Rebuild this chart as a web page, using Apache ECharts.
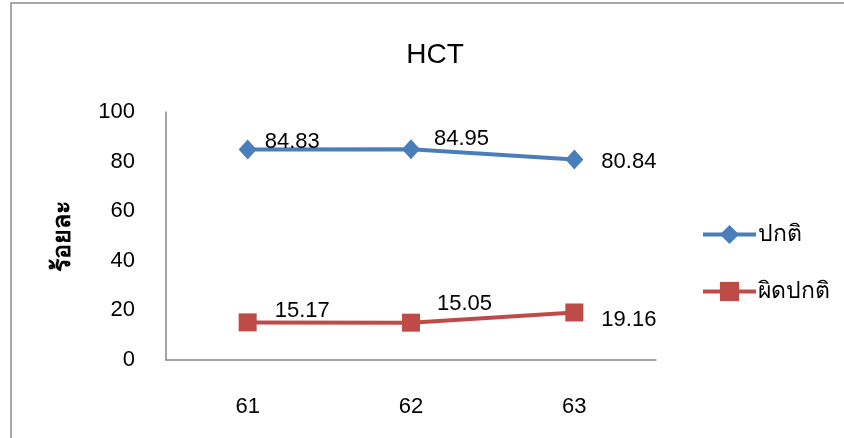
<!DOCTYPE html>
<html>
<head>
<meta charset="utf-8">
<script src="https://cdn.jsdelivr.net/npm/echarts@6/dist/echarts.min.js"></script>
<style>
  html, body { margin: 0; padding: 0; background: #fff; }
  #main { width: 844px; height: 438px; }
</style>
</head>
<body>
<div id="main"></div>
<script>
var categories = ["61", "62", "63"];
var normalName = "ปกติ";
var abnormalName = "ผิดปกติ";
var normalValues = [84.83, 84.95, 80.84];
var abnormalValues = [15.17, 15.05, 19.16];
var yTicks = { min: 0, max: 100, interval: 20 };

// label offsets per point, hand tuned to match the picture
var normalOffsets = [[0, -8], [6, -10], [10, 2]];
var abnormalOffsets = [[10, -11], [9, -19], [10, 7]];

function withLabels(values, offsets) {
  return values.map(function (v, i) {
    return { value: v, label: { offset: offsets[i] } };
  });
}

var font = "'Liberation Sans', Arial, sans-serif";
var myChart = echarts.init(document.getElementById("main"));
myChart.setOption({
  animation: false,
  textStyle: { fontFamily: font },
  title: {
    text: "HCT",
    left: 430,
    textAlign: "center",
    top: 36,
    textStyle: { fontSize: 28, fontWeight: "normal", color: "#000", fontFamily: font }
  },
  graphic: [{
    type: "rect",
    shape: { x: 11, y: 3, width: 900, height: 500 },
    style: { fill: "none", stroke: "#8c8c8c", lineWidth: 1.5 }
  }],
  legend: {
    orient: "vertical",
    left: 696,
    top: 218,
    itemGap: 34,
    itemWidth: 53,
    itemHeight: 24,
    lineStyle: { width: 4 },
    textStyle: { fontSize: 23, color: "#000", fontFamily: font, padding: [0, 0, 0, -3] },
    data: [normalName, abnormalName]
  },
  grid: { left: 166, right: 188, top: 112, bottom: 78 },
  xAxis: {
    type: "category",
    data: categories,
    boundaryGap: true,
    axisLine: { lineStyle: { color: "#868686", width: 1.5 } },
    axisTick: { show: false },
    axisLabel: { fontSize: 22, color: "#000", margin: 36 }
  },
  yAxis: {
    type: "value",
    min: yTicks.min,
    max: yTicks.max,
    interval: yTicks.interval,
    name: "ร้อยละ",
    nameLocation: "middle",
    nameRotate: 90,
    nameGap: 90,
    nameTextStyle: { fontSize: 25, fontWeight: "bold", color: "#000" },
    splitLine: { show: false },
    axisLine: { show: true, lineStyle: { color: "#868686", width: 1.5 } },
    axisTick: { show: false },
    axisLabel: { fontSize: 22, color: "#000", margin: 31 }
  },
  series: [
    {
      name: normalName,
      type: "line",
      data: withLabels(normalValues, normalOffsets),
      symbol: "diamond",
      symbolSize: [18, 20],
      itemStyle: { color: "#4a7ebb" },
      lineStyle: { color: "#4a7ebb", width: 4 },
      label: { show: true, position: "right", fontSize: 22, color: "#000", distance: 8 }
    },
    {
      name: abnormalName,
      type: "line",
      data: withLabels(abnormalValues, abnormalOffsets),
      symbol: "rect",
      symbolSize: 18,
      itemStyle: { color: "#be4b48" },
      lineStyle: { color: "#be4b48", width: 4 },
      label: { show: true, position: "right", fontSize: 22, color: "#000", distance: 8 }
    }
  ]
});
</script>
</body>
</html>
